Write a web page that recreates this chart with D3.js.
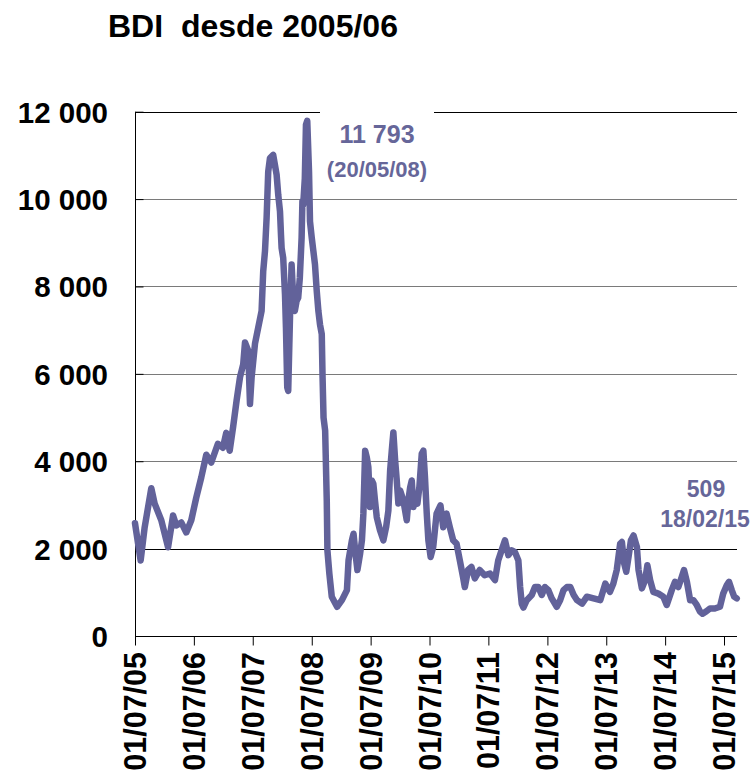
<!DOCTYPE html>
<html>
<head>
<meta charset="utf-8">
<script src="https://cdn.jsdelivr.net/npm/d3@7"></script>
<style>
  html, body { margin: 0; padding: 0; background: #fff; }
  svg { display: block; font-family: Arial, "Liberation Sans", sans-serif; }
</style>
</head>
<body>
<script>
// ---- Data ----
const title = "BDI  desde 2005/06";
const dates = [
  "2005-07-01","2005-08-05","2005-08-30","2005-10-10","2005-10-31","2005-12-11","2006-01-22","2006-02-22",
  "2006-03-14","2006-04-14","2006-05-15","2006-06-15","2006-07-16","2006-08-16","2006-09-16","2006-10-17",
  "2006-11-27","2006-12-28","2007-01-18","2007-02-08","2007-03-02","2007-03-23","2007-04-13","2007-05-03",
  "2007-05-14","2007-06-03","2007-06-14","2007-06-24","2007-07-15","2007-08-04","2007-08-25","2007-09-04",
  "2007-09-15","2007-09-25","2007-10-05","2007-10-16","2007-11-05","2007-11-26","2007-12-06","2007-12-17",
  "2007-12-23","2007-12-27","2008-01-06","2008-01-17","2008-01-23","2008-01-31","2008-02-06","2008-02-17",
  "2008-02-27","2008-03-08","2008-03-18","2008-03-29","2008-04-08","2008-04-18","2008-04-29","2008-05-04",
  "2008-05-09","2008-05-19","2008-05-26","2008-06-03","2008-06-14","2008-06-20","2008-07-01","2008-07-11",
  "2008-07-21","2008-08-01","2008-08-11","2008-08-21","2008-09-01","2008-09-06","2008-09-12","2008-09-22",
  "2008-10-02","2008-10-06","2008-10-18","2008-11-02","2008-12-05","2009-01-04","2009-02-04","2009-02-14",
  "2009-03-07","2009-03-17","2009-03-27","2009-04-10","2009-04-27","2009-05-08","2009-05-17","2009-05-28",
  "2009-06-07","2009-06-17","2009-06-27","2009-07-08","2009-07-18","2009-07-28","2009-08-08","2009-08-28",
  "2009-09-18","2009-10-05","2009-10-19","2009-10-30","2009-11-09","2009-11-19","2009-11-30","2009-12-10",
  "2009-12-20","2009-12-31","2010-01-20","2010-02-10","2010-02-20","2010-03-03","2010-03-13","2010-03-23",
  "2010-04-03","2010-04-17","2010-04-29","2010-05-14","2010-05-24","2010-06-03","2010-06-14","2010-06-24",
  "2010-07-08","2010-07-24","2010-08-14","2010-09-07","2010-09-24","2010-10-15","2010-11-04","2010-11-25",
  "2010-12-16","2011-01-05","2011-01-25","2011-02-05","2011-02-25","2011-03-18","2011-04-08","2011-05-08",
  "2011-06-08","2011-07-11","2011-08-11","2011-08-31","2011-09-21","2011-10-12","2011-11-02","2011-11-23",
  "2011-12-13","2012-01-03","2012-01-14","2012-01-24","2012-02-03","2012-02-24","2012-03-26","2012-04-15",
  "2012-05-06","2012-05-27","2012-06-16","2012-07-07","2012-07-28","2012-08-28","2012-09-18","2012-10-09",
  "2012-10-30","2012-11-20","2012-12-11","2013-01-01","2013-02-01","2013-03-03","2013-04-13","2013-05-25",
  "2013-06-25","2013-07-24","2013-08-14","2013-09-04","2013-09-25","2013-10-06","2013-10-20","2013-11-02",
  "2013-11-16","2013-12-01","2013-12-17","2014-01-07","2014-01-17","2014-02-07","2014-02-27","2014-03-13",
  "2014-03-30","2014-04-19","2014-05-20","2014-06-20","2014-07-11","2014-08-11","2014-08-31","2014-09-21",
  "2014-10-12","2014-10-26","2014-11-13","2014-12-03","2014-12-23","2015-01-13","2015-02-02","2015-02-18",
  "2015-03-12","2015-04-05","2015-05-05","2015-06-06","2015-06-26","2015-07-18","2015-08-01","2015-08-18",
  "2015-09-02","2015-09-18"
];
const bdi = [
  2580,1730,2490,3380,3030,2650,2030,2760,
  2530,2600,2370,2650,3170,3630,4150,3970,
  4400,4310,4650,4240,4800,5390,5920,6220,
  6720,6530,5310,5920,6690,7060,7440,8350,
  8810,9570,10630,10940,11010,10560,10100,9720,
  9190,8880,8650,7820,7060,5690,5610,7290,
  8500,7740,7440,7670,7740,8200,9110,9950,
  9870,10480,11700,11793,10630,9490,9110,8810,
  8500,7890,7440,7130,6910,5920,5000,4700,
  3100,1960,1430,900,670,820,1050,1730,
  2190,2340,1960,1510,1890,2190,2800,4240,
  4090,3860,2950,3560,3480,3100,2720,2420,
  2190,2490,2870,3790,4240,4660,4020,3560,
  3030,3330,3100,2650,3100,3400,3560,2950,
  3100,3030,3400,4170,4240,3630,2800,2190,
  1810,2040,2800,2990,2490,2800,2490,2190,
  2110,1730,1350,1120,1510,1580,1320,1510,
  1390,1430,1280,1730,1960,2190,1850,1960,
  1920,1730,1120,740,650,820,940,1120,
  1120,940,1120,1050,860,670,820,1050,
  1120,1120,940,820,740,900,860,820,
  1200,1010,1200,1510,2110,2150,1660,1470,
  1810,2190,2300,2040,1510,1090,1280,1620,
  1280,1010,970,900,710,1050,1240,1120,
  1350,1510,1240,820,820,710,560,509,
  560,630,630,670,970,1160,1240,1050,
  900,860
];
const yTicks = [0, 2000, 4000, 6000, 8000, 10000, 12000];
const xTickDates = ["2005-07-01","2006-07-01","2007-07-01","2008-07-01","2009-07-01","2010-07-01",
                    "2011-07-01","2012-07-01","2013-07-01","2014-07-01","2015-07-01"];
const peakLabel = ["11 793", "(20/05/08)"];
const lowLabel = ["509", "18/02/15"];

// ---- Drawing ----
const W = 754, H = 779;
const parse = d3.timeParse("%Y-%m-%d");
const data = dates.map((d, i) => ({ date: parse(d), value: bdi[i] }));

const pLeft = 135, pRight = 737, pTop = 111.7, pBottom = 636;
const x = d3.scaleTime()
  .domain([parse("2005-07-01"), parse("2015-07-01")])
  .range([pLeft, 724]);
const y = d3.scaleLinear().domain([0, 12000]).range([pBottom, pTop]);

const lineColor = "#62629a";
const svg = d3.select("body").append("svg").attr("width", W).attr("height", H);

// title
svg.append("text")
  .attr("x", 108).attr("y", 37)
  .attr("font-size", 32).attr("font-weight", "bold")
  .style("white-space", "pre")
  .text(title);

// gridlines
svg.append("g").selectAll("line")
  .data(yTicks.filter(v => v > 0))
  .join("line")
  .attr("x1", pLeft).attr("x2", pRight)
  .attr("y1", d => Math.round(y(d)) + 0.5).attr("y2", d => Math.round(y(d)) + 0.5)
  .attr("stroke", d => (d === 2000 || d === 12000) ? "#000" : "#7a7a7a")
  .attr("stroke-width", 1);

// y axis (ticks inside)
const fmt = d3.formatLocale({ decimal: ",", thousands: " ", grouping: [3], currency: ["", ""] }).format(",");
const yAxis = svg.append("g")
  .attr("transform", `translate(${pLeft + 0.5},0)`)
  .call(d3.axisRight(y).tickValues(yTicks).tickSize(8).tickFormat(""));
yAxis.select(".domain").attr("stroke", "#000").attr("d", `M0,${pBottom}V${pTop}`);
yAxis.selectAll(".tick line").attr("stroke", "#000");

svg.append("g").selectAll("text")
  .data(yTicks)
  .join("text")
  .attr("x", 108)
  .attr("y", d => y(d) + 11)
  .attr("text-anchor", "end")
  .attr("font-size", 29.5).attr("font-weight", "bold")
  .text(d => fmt(d));

// x axis
const xAxis = svg.append("g")
  .attr("transform", `translate(0,${pBottom + 0.5})`)
  .call(d3.axisBottom(x).tickValues(xTickDates.map(parse)).tickSize(9).tickFormat(""));
xAxis.select(".domain").attr("stroke", "#000").attr("d", `M${pLeft},0H${pRight}`);
xAxis.selectAll(".tick line").attr("stroke", "#000");

const xfmt = d3.timeFormat("%d/%m/%y");
svg.append("g").selectAll("text")
  .data(xTickDates.map(parse))
  .join("text")
  .attr("transform", d => `translate(${x(d) + 11},652) rotate(-90)`)
  .attr("text-anchor", "end")
  .attr("font-size", 30.5).attr("font-weight", "bold")
  .text(d => xfmt(d));

// line
const line = d3.line().x(d => x(d.date)).y(d => y(d.value));
svg.append("path")
  .datum(data)
  .attr("d", line)
  .attr("fill", "none")
  .attr("stroke", lineColor)
  .attr("stroke-width", 6.5)
  .attr("stroke-linejoin", "round")
  .attr("stroke-linecap", "round");

// peak annotation with white box
svg.append("rect")
  .attr("x", 320).attr("y", 100).attr("width", 114).attr("height", 22)
  .attr("fill", "#fff");
const annColor = "#666699";
svg.append("text")
  .attr("x", 377).attr("y", 143).attr("text-anchor", "middle")
  .attr("font-size", 25).attr("font-weight", "bold").attr("fill", annColor)
  .text(peakLabel[0]);
svg.append("text")
  .attr("x", 377).attr("y", 177).attr("text-anchor", "middle")
  .attr("font-size", 22).attr("font-weight", "bold").attr("fill", annColor)
  .text(peakLabel[1]);

// low annotation
svg.append("text")
  .attr("x", 706).attr("y", 497).attr("text-anchor", "middle")
  .attr("font-size", 23).attr("font-weight", "bold").attr("fill", annColor)
  .text(lowLabel[0]);
svg.append("text")
  .attr("x", 705).attr("y", 527).attr("text-anchor", "middle")
  .attr("font-size", 23).attr("font-weight", "bold").attr("fill", annColor)
  .text(lowLabel[1]);
</script>
</body>
</html>
